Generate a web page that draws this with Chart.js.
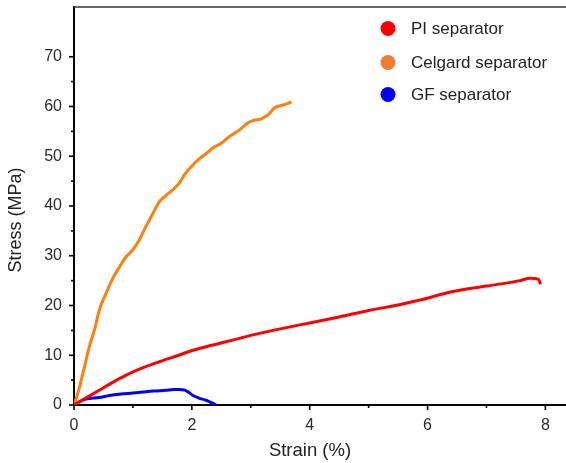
<!DOCTYPE html>
<html lang="en">
<head>
    <meta charset="UTF-8">
    <title>Stress-strain curves of separators</title>
    <script src="https://cdn.jsdelivr.net/npm/chart.js@4.4.0/dist/chart.umd.min.js"></script>
    <style>
        html, body { margin: 0; padding: 0; background: #fff; }
        #wrap { width: 566px; height: 463px; position: relative; }
    </style>
</head>
<body>
    <div id="wrap"><canvas id="stressChart"></canvas></div>
    <script>
        // Strain (%) / stress (MPa) readings for each separator
        const piStrain = [0, 0.2, 0.43, 0.65, 0.885, 1.15, 1.45, 1.75, 2.02, 2.3, 2.58, 2.87, 3.15, 3.5, 4.0, 4.5, 5.0, 5.5, 5.87, 6.43, 7.0, 7.57, 7.74, 7.88, 7.92];
        const piStress = [0, 1.4, 2.96, 4.5, 6.0, 7.4, 8.7, 9.9, 11.0, 11.9, 12.7, 13.6, 14.4, 15.3, 16.5, 17.7, 19.0, 20.1, 21.1, 22.8, 23.9, 25.0, 25.5, 25.3, 24.3];

        const celgardStrain = [0, 0.08, 0.15, 0.26, 0.35, 0.43, 0.55, 0.66, 0.78, 0.885, 1.0, 1.11, 1.2, 1.28, 1.37, 1.45, 1.55, 1.68, 1.78, 1.876, 2.0, 2.13, 2.25, 2.36, 2.5, 2.64, 2.8, 2.95, 3.05, 3.18, 3.3, 3.41, 3.55, 3.69];
        const celgardStress = [0, 3.0, 6.3, 11.7, 15.2, 19.1, 22.6, 25.5, 27.9, 29.8, 31.2, 33.2, 35.4, 37.2, 39.2, 40.9, 42.0, 43.3, 44.5, 46.3, 48.0, 49.5, 50.6, 51.7, 52.6, 54.0, 55.2, 56.7, 57.2, 57.5, 58.4, 59.8, 60.3, 60.9];

        const gfStrain = [0, 0.1, 0.2, 0.43, 0.6, 0.8, 1.0, 1.17, 1.35, 1.56, 1.7, 1.79, 1.88, 1.95, 2.02, 2.12, 2.24, 2.33, 2.41];
        const gfStress = [0, 0.7, 1.2, 1.5, 1.9, 2.2, 2.4, 2.6, 2.8, 2.95, 3.1, 3.1, 3.0, 2.5, 1.9, 1.4, 0.95, 0.5, 0.05];

        const seriesLabels = ['PI separator', 'Celgard separator', 'GF separator'];
        const lineColors = ['#ff0000', '#ff7f0a', '#0000ff'];
        const legendColors = ['#ff0000', '#ed7d31', '#0000ff'];

        const yTicks = [0, 10, 20, 30, 40, 50, 60, 70];
        const xTicks = [0, 2, 4, 6, 8];

        const FONT = '"Liberation Sans", Arial, sans-serif';

        function toPoints(xs, ys) {
            return xs.map((x, i) => ({ x: x, y: ys[i] }));
        }

        // tick marks: long on labelled values, short in between
        const tickMarks = {
            id: 'tickMarks',
            afterDraw(chart) {
                const { ctx, chartArea, scales } = chart;
                ctx.save();
                ctx.strokeStyle = '#333';
                ctx.lineWidth = 1.5;
                // frame top edge
                ctx.beginPath();
                ctx.moveTo(chartArea.left, chartArea.top);
                ctx.lineTo(chartArea.right, chartArea.top);
                ctx.stroke();
                ctx.strokeStyle = '#000';
                ctx.lineWidth = 1.6;
                for (let v = 0; v <= 70; v += 5) {
                    const py = scales.y.getPixelForValue(v);
                    const len = yTicks.includes(v) ? 5 : 3;
                    ctx.beginPath();
                    ctx.moveTo(chartArea.left, py);
                    ctx.lineTo(chartArea.left - len, py);
                    ctx.stroke();
                }
                for (let v = 0; v <= 8; v += 1) {
                    const px = scales.x.getPixelForValue(v);
                    const len = xTicks.includes(v) ? 5 : 3;
                    ctx.beginPath();
                    ctx.moveTo(px, chartArea.bottom);
                    ctx.lineTo(px, chartArea.bottom + len);
                    ctx.stroke();
                }
                ctx.restore();
            }
        };

        // axis titles and the dot legend
        const labelsPlugin = {
            id: 'labelsPlugin',
            afterDraw(chart) {
                const { ctx } = chart;
                ctx.save();
                ctx.fillStyle = '#222';
                ctx.textAlign = 'center';
                ctx.textBaseline = 'middle';
                ctx.font = '18.5px ' + FONT;
                ctx.fillText('Strain (%)', 310, 451);
                ctx.font = '18px ' + FONT;
                ctx.translate(16, 220);
                ctx.rotate(-Math.PI / 2);
                ctx.fillText('Stress (MPa)', 0, 0);
                ctx.restore();

                ctx.save();
                ctx.font = '17px ' + FONT;
                ctx.textAlign = 'left';
                ctx.textBaseline = 'middle';
                const rows = [28.5, 62.5, 94.5];
                chart.data.datasets.forEach((ds, i) => {
                    ctx.fillStyle = legendColors[i];
                    ctx.beginPath();
                    ctx.arc(388, rows[i], 7.5, 0, Math.PI * 2);
                    ctx.fill();
                    ctx.fillStyle = '#222';
                    ctx.fillText(ds.label, 411, rows[i] + 1);
                });
                ctx.restore();
            }
        };

        const seriesData = [
            toPoints(piStrain, piStress),
            toPoints(celgardStrain, celgardStress),
            toPoints(gfStrain, gfStress)
        ];

        new Chart(document.getElementById('stressChart'), {
            type: 'line',
            data: {
                datasets: seriesLabels.map((label, i) => ({
                    label: label,
                    data: seriesData[i],
                    borderColor: lineColors[i],
                    borderWidth: 3,
                    pointRadius: 0,
                    cubicInterpolationMode: 'monotone',
                    fill: false
                }))
            },
            options: {
                responsive: true,
                maintainAspectRatio: false,
                animation: false,
                layout: { padding: { top: 7, right: 0, left: 0, bottom: 0 } },
                plugins: {
                    legend: { display: false },
                    tooltip: { enabled: false }
                },
                scales: {
                    x: {
                        type: 'linear',
                        min: 0,
                        max: 8.35,
                        afterFit: s => { s.height = 58; s.paddingLeft = 0; s.paddingRight = 0; },
                        afterBuildTicks: s => { s.ticks = xTicks.map(v => ({ value: v })); },
                        border: { color: '#000', width: 2 },
                        grid: { display: true, drawOnChartArea: false, drawTicks: false, color: 'transparent' },
                        ticks: {
                            padding: 11,
                            color: '#2a2a2a',
                            font: { family: FONT, size: 16 }
                        }
                    },
                    y: {
                        type: 'linear',
                        min: 0,
                        max: 80,
                        afterFit: s => { s.width = 74; s.paddingTop = 0; s.paddingBottom = 0; },
                        afterBuildTicks: s => { s.ticks = yTicks.map(v => ({ value: v })); },
                        border: { color: '#000', width: 2 },
                        grid: { display: true, drawOnChartArea: false, drawTicks: false, color: 'transparent' },
                        ticks: {
                            padding: 12,
                            color: '#2a2a2a',
                            font: { family: FONT, size: 16 }
                        }
                    }
                }
            },
            plugins: [tickMarks, labelsPlugin]
        });
    </script>
</body>
</html>
